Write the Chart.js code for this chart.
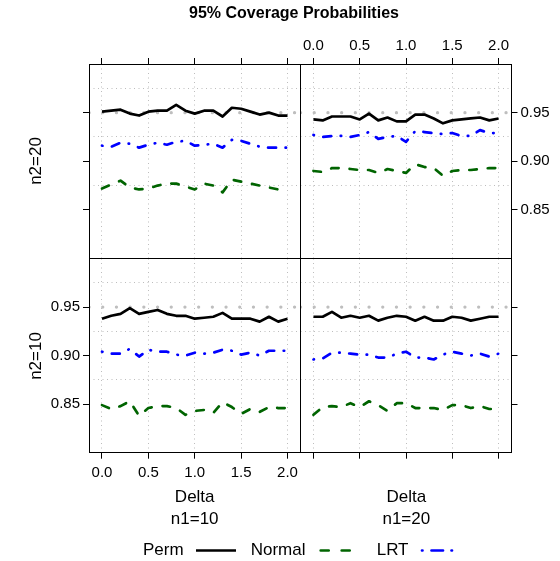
<!DOCTYPE html>
<html>
<head>
<meta charset="utf-8">
<script src="https://cdn.jsdelivr.net/npm/chart.js@4"></script>
<style>
  body { margin: 0; background: #fff; }
  #wrap { position: relative; width: 560px; height: 561px; }
  #wrap canvas { position: absolute; left: 0; top: 0; }
</style>
</head>
<body>
<div id="wrap">
  <canvas id="tl" width="560" height="561"></canvas>
  <canvas id="tr" width="560" height="561"></canvas>
  <canvas id="bl" width="560" height="561"></canvas>
  <canvas id="br" width="560" height="561"></canvas>
</div>
<script>
// ---- data ----
const delta = [0.0, 0.1, 0.2, 0.3, 0.4, 0.5, 0.6, 0.7, 0.8, 0.9, 1.0,
               1.1, 1.2, 1.3, 1.4, 1.5, 1.6, 1.7, 1.8, 1.9, 2.0];

// n1=10, n2=20 (top left)
const perm_n1_10_n2_20   = [0.951, 0.952, 0.953, 0.949, 0.947, 0.951, 0.952, 0.952, 0.958, 0.952, 0.949, 0.952, 0.952, 0.946, 0.955, 0.954, 0.951, 0.948, 0.950, 0.947, 0.947];
const normal_n1_10_n2_20 = [0.872, 0.876, 0.880, 0.873, 0.871, 0.872, 0.875, 0.877, 0.877, 0.874, 0.871, 0.877, 0.875, 0.868, 0.881, 0.879, 0.877, 0.875, 0.873, 0.871, 0.868];
const lrt_n1_10_n2_20    = [0.916, 0.915, 0.919, 0.918, 0.914, 0.917, 0.919, 0.917, 0.920, 0.921, 0.916, 0.917, 0.918, 0.914, 0.922, 0.921, 0.918, 0.915, 0.914, 0.914, 0.914];

// n1=20, n2=20 (top right)
const perm_n1_20_n2_20   = [0.943, 0.942, 0.946, 0.946, 0.946, 0.943, 0.949, 0.942, 0.945, 0.941, 0.941, 0.948, 0.948, 0.944, 0.939, 0.942, 0.943, 0.944, 0.945, 0.942, 0.944];
const normal_n1_20_n2_20 = [0.890, 0.889, 0.893, 0.893, 0.892, 0.891, 0.891, 0.888, 0.892, 0.890, 0.888, 0.897, 0.894, 0.893, 0.885, 0.890, 0.891, 0.891, 0.892, 0.893, 0.893];
const lrt_n1_20_n2_20    = [0.927, 0.925, 0.926, 0.926, 0.925, 0.927, 0.930, 0.923, 0.925, 0.926, 0.920, 0.931, 0.930, 0.929, 0.928, 0.929, 0.926, 0.926, 0.932, 0.929, 0.929];

// n1=10, n2=10 (bottom left)
const perm_n1_10_n2_10   = [0.938, 0.941, 0.943, 0.949, 0.943, 0.945, 0.947, 0.943, 0.941, 0.941, 0.938, 0.939, 0.940, 0.944, 0.938, 0.938, 0.938, 0.935, 0.940, 0.935, 0.938];
const normal_n1_10_n2_10 = [0.849, 0.845, 0.848, 0.853, 0.838, 0.846, 0.848, 0.848, 0.846, 0.839, 0.843, 0.844, 0.841, 0.852, 0.847, 0.840, 0.845, 0.842, 0.847, 0.846, 0.846];
const lrt_n1_10_n2_10    = [0.904, 0.902, 0.902, 0.907, 0.899, 0.906, 0.904, 0.904, 0.901, 0.900, 0.903, 0.902, 0.903, 0.906, 0.905, 0.901, 0.903, 0.900, 0.905, 0.905, 0.905];

// n1=20, n2=10 (bottom right)
const perm_n1_20_n2_10   = [0.940, 0.940, 0.945, 0.939, 0.941, 0.939, 0.941, 0.936, 0.939, 0.941, 0.940, 0.936, 0.940, 0.936, 0.936, 0.940, 0.939, 0.936, 0.938, 0.940, 0.940];
const normal_n1_20_n2_10 = [0.839, 0.847, 0.848, 0.847, 0.851, 0.847, 0.853, 0.849, 0.843, 0.851, 0.851, 0.846, 0.846, 0.846, 0.844, 0.849, 0.849, 0.846, 0.848, 0.845, 0.845];
const lrt_n1_20_n2_10    = [0.896, 0.897, 0.903, 0.903, 0.902, 0.901, 0.901, 0.898, 0.898, 0.902, 0.904, 0.898, 0.898, 0.896, 0.901, 0.904, 0.902, 0.900, 0.902, 0.899, 0.902];

const xTicks = [0, 0.5, 1, 1.5, 2];
const yTicks = [0.85, 0.90, 0.95];
const yGrid  = [0.875, 0.925, 0.975];
const refLevel = 0.95;
const xMin = -0.14, xMax = 2.14;
const yMin = 0.80, yMax = 1.00;

const titleText = "95% Coverage Probabilities";
const xTitle = "Delta";
const colLabels = ["n1=10", "n1=20"];
const rowLabels = ["n2=20", "n2=10"];
const seriesNames = ["Perm", "Normal", "LRT"];

// ---- styling / layout ----
const W = 560, H = 561;
const XAX = 40, YAX = 45;
const FONT = '"Liberation Sans", Arial, Helvetica, sans-serif';
const GRID = "#bdbdbd";
const colors = ["#000000", "#006400", "#0000ff"];
const dashes = [[], [7.5, 11], [0.5, 9.5, 8, 9.5]];

const near = (a, list) => list.some(v => Math.abs(v - a) < 1e-6);

const panelBorder = {
  id: "panelBorder",
  afterDraw(chart) {
    const a = chart.chartArea, c = chart.ctx;
    const l = Math.floor(a.left) + 0.5, r = Math.floor(a.right) + 0.5;
    const t = Math.floor(a.top) + 0.5, b = Math.floor(a.bottom) + 0.5;
    c.save();
    c.setLineDash([]);
    c.strokeStyle = "#000";
    c.lineWidth = 1;
    c.strokeRect(l, t, r - l, b - t);
    c.restore();
  }
};

const annotations = {
  id: "annotations",
  afterDraw(chart) {
    const c = chart.ctx;
    c.save();
    c.fillStyle = "#000";
    c.textAlign = "center";
    c.textBaseline = "middle";

    c.font = "bold 16px " + FONT;
    c.fillText(titleText, 294, 14);

    c.font = "17px " + FONT;
    [194.7, 406.3].forEach((x, i) => {
      c.fillText(xTitle, x, 497);
      c.fillText(colLabels[i], x, 519);
    });
    [161, 356].forEach((y, i) => {
      c.save();
      c.translate(36, y);
      c.rotate(-Math.PI / 2);
      c.fillText(rowLabels[i], 0, 0);
      c.restore();
    });

    // key
    c.textAlign = "left";
    const keyY = 550.5;
    const textX = [143, 250.7, 376.7];
    const lineX = [[196, 236], [320.7, 360.7], [422, 460]];
    const keyDash = [[], [8, 13], [0.5, 9, 11.5, 8.5]];
    seriesNames.forEach((name, i) => {
      c.fillStyle = "#000";
      c.fillText(name, textX[i], keyY);
      c.strokeStyle = colors[i];
      c.lineWidth = 2.7;
      c.lineCap = i === 0 ? "butt" : "round";
      c.setLineDash(keyDash[i]);
      c.beginPath();
      c.moveTo(lineX[i][0], keyY);
      c.lineTo(lineX[i][1], keyY);
      c.stroke();
    });
    c.restore();
  }
};

const panels = [
  { id: "tl", box: { l: 89, r: 300.5, t: 64, b: 258.5 }, xSide: "top", ySide: "left",
    xLab: false, yLab: false, series: [perm_n1_10_n2_20, normal_n1_10_n2_20, lrt_n1_10_n2_20] },
  { id: "tr", box: { l: 300.5, r: 511.5, t: 64, b: 258.5 }, xSide: "top", ySide: "right",
    xLab: true, yLab: true, series: [perm_n1_20_n2_20, normal_n1_20_n2_20, lrt_n1_20_n2_20] },
  { id: "bl", box: { l: 89, r: 300.5, t: 258.5, b: 452.7 }, xSide: "bottom", ySide: "left",
    xLab: true, yLab: true, series: [perm_n1_10_n2_10, normal_n1_10_n2_10, lrt_n1_10_n2_10] },
  { id: "br", box: { l: 300.5, r: 511.5, t: 258.5, b: 452.7 }, xSide: "bottom", ySide: "right",
    xLab: false, yLab: false, series: [perm_n1_20_n2_10, normal_n1_20_n2_10, lrt_n1_20_n2_10] }
];

function buildPanel(p) {
  const pad = {
    left:   p.ySide === "left"   ? p.box.l - YAX : p.box.l,
    right:  p.ySide === "right"  ? W - p.box.r - YAX : W - p.box.r,
    top:    p.xSide === "top"    ? p.box.t - XAX : p.box.t,
    bottom: p.xSide === "bottom" ? H - p.box.b - XAX : H - p.box.b
  };
  const pts = arr => delta.map((d, i) => ({ x: d, y: arr[i] }));

  const datasets = p.series.map((arr, i) => ({
    label: seriesNames[i],
    data: pts(arr),
    borderColor: colors[i],
    borderWidth: 2.7,
    borderDash: dashes[i],
    borderCapStyle: i === 0 ? "butt" : "round",
    borderJoinStyle: "round"
  }));
  datasets.push({
    label: "ref",
    data: [{ x: xMin, y: refLevel }, { x: xMax, y: refLevel }],
    borderColor: "#bebebe",
    borderWidth: 3.2,
    borderDash: [0.1, 13.6],
    borderCapStyle: "round"
  });

  const plugins = [panelBorder];
  if (p.id === "bl") plugins.push(annotations);

  return new Chart(document.getElementById(p.id), {
    type: "line",
    data: { datasets },
    options: {
      responsive: false,
      animation: false,
      events: [],
      layout: { padding: pad, autoPadding: false },
      elements: { point: { radius: 0 }, line: { tension: 0, fill: false } },
      plugins: { legend: { display: false }, tooltip: { enabled: false } },
      scales: {
        x: {
          type: "linear",
          position: p.xSide,
          min: xMin, max: xMax,
          afterBuildTicks: s => { s.ticks = xTicks.map(v => ({ value: v })); },
          afterFit: s => { s.height = XAX; },
          ticks: {
            autoSkip: false, maxRotation: 0,
            padding: p.xSide === "top" ? 3 : 5,
            color: p.xLab ? "#000" : "rgba(0,0,0,0)",
            font: { family: FONT, size: 15 },
            callback: v => v.toFixed(1)
          },
          grid: { color: GRID, lineWidth: 1, tickLength: 6, tickColor: "#000", tickWidth: 1 },
          border: { display: false, dash: [1, 3.5] }
        },
        y: {
          type: "linear",
          position: p.ySide,
          min: yMin, max: yMax,
          afterBuildTicks: s => {
            s.ticks = yTicks.concat(yGrid).sort((a, b) => a - b).map(v => ({ value: v }));
          },
          afterFit: s => { s.width = YAX; },
          ticks: {
            autoSkip: false,
            padding: 3,
            color: p.yLab ? "#000" : "rgba(0,0,0,0)",
            font: { family: FONT, size: 15 },
            callback: v => near(v, yTicks) ? v.toFixed(2) : ""
          },
          grid: {
            lineWidth: 1, tickLength: 6, tickWidth: 1,
            color: ctx => near(ctx.tick.value, yGrid) ? GRID : "rgba(0,0,0,0)",
            tickColor: ctx => near(ctx.tick.value, yTicks) ? "#000" : "rgba(0,0,0,0)"
          },
          border: { display: false, dash: [1, 3.5] }
        }
      }
    },
    plugins
  });
}

panels.forEach(buildPanel);
</script>
</body>
</html>
